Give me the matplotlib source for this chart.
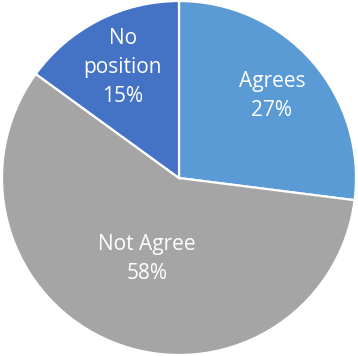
import numpy as np
import matplotlib
matplotlib.use("Agg")
import matplotlib.pyplot as plt

categories = ["Agrees", "Not Agree", "No\nposition"]
shares = [27, 58, 15]
colors = ["#5B9BD5", "#A5A5A5", "#4472C4"]
# how far from the centre each label sits, as a fraction of the radius
label_dist = [0.70, 0.49, 0.70]

fig = plt.figure(figsize=(3.58, 3.56), dpi=100)
ax = fig.add_axes([0, 0, 1, 1])

wedges, _ = ax.pie(shares, colors=colors, startangle=90, counterclock=False,
                   radius=1.0, wedgeprops=dict(edgecolor="white", linewidth=1.6))

for w, name, val, d in zip(wedges, categories, shares, label_dist):
    mid = np.deg2rad((w.theta1 + w.theta2) / 2)
    ax.text(d * np.cos(mid), d * np.sin(mid), f"{name}\n{val}%",
            ha="center", va="center", color="white", fontsize=15,
            family="Open Sans", linespacing=1.5)

ax.set_aspect("auto")
ax.set_xlim(-179 / 177, 179 / 177)
ax.set_ylim(-178 / 177, 178 / 177)
ax.axis("off")

fig.savefig("out.png", dpi=100)
